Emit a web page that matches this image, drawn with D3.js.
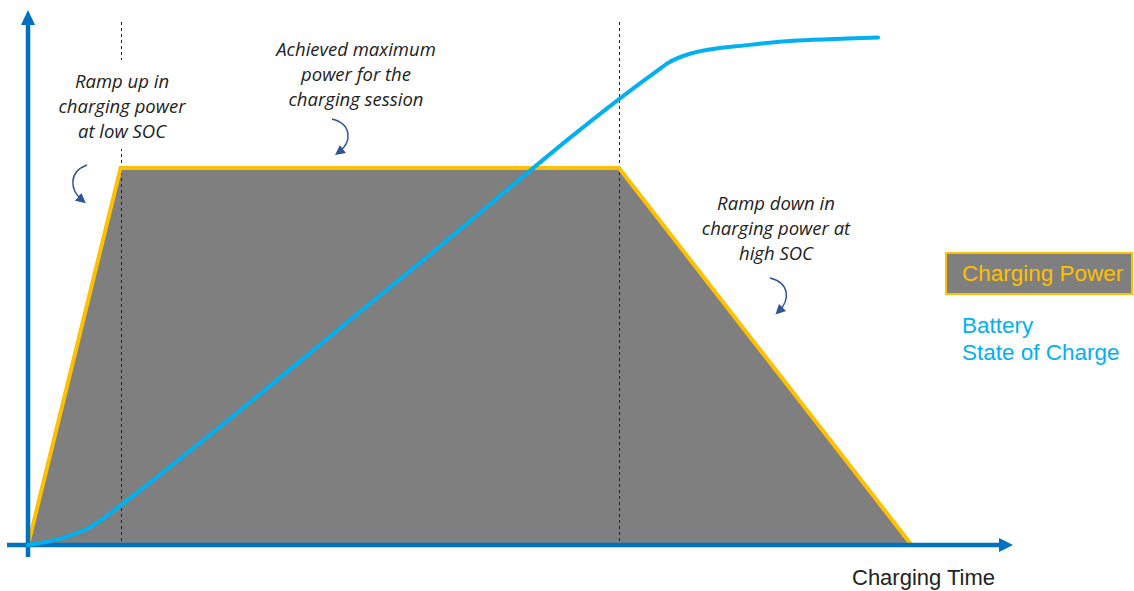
<!DOCTYPE html>
<html>
<head>
<meta charset="utf-8">
<script src="https://cdn.jsdelivr.net/npm/d3@7"></script>
<style>
  html, body { margin: 0; padding: 0; background: #fff; }
  #root { width: 1134px; height: 591px; }
</style>
</head>
<body>
<div id="root"></div>
<script>
'use strict';

// charging power profile (time, power in % of max)
var powerTime = [0, 9.4, 60, 89.7];
var powerValue = [0, 74.2, 74.2, 0];

// battery state of charge (time, %)
var socTime = [0, 3.2, 6.3, 8.8, 11.4, 37.8, 63.7, 65, 67.2, 73, 78.1, 83.2, 86.3];
var socValue = [0, 1.2, 3.5, 6.9, 10.8, 52.4, 93.1, 94.9, 96.7, 98.4, 99.3, 99.7, 99.9];

// phase boundaries (dashed lines)
var phaseTimes = [9.4, 60];

var notes = [
  ['Ramp up in', 'charging power', 'at low SOC'],
  ['Achieved maximum', 'power for the', 'charging session'],
  ['Ramp down in', 'charging power at', 'high SOC']
];
var legendLabels = ['Charging Power', 'Battery', 'State of Charge'];
var axisLabel = 'Charging Time';

var width = 1134;
var height = 591;

var orange = '#ffc000';
var gray = '#7f7f7f';
var socBlue = '#00b0f0';
var axisBlue = '#0070c0';
var arrowBlue = '#2f5597';

var xScale = d3.scaleLinear().domain([0, 100]).range([28, 1013]);
var yScale = d3.scaleLinear().domain([0, 100]).range([545, 37]);

var svg = d3.select('#root')
  .append('svg')
  .attr('width', width)
  .attr('height', height);

var power = powerTime.map((t, i) => ({ t: t, v: powerValue[i] }));
var soc = socTime.map((t, i) => ({ t: t, v: socValue[i] }));

// power area
svg.append('path')
  .datum(power)
  .attr('fill', gray)
  .attr('d', d3.area().x(d => xScale(d.t)).y0(yScale(0)).y1(d => yScale(d.v)));

// dashed phase lines
svg.selectAll('.phase')
  .data(phaseTimes)
  .enter()
  .append('line')
  .attr('x1', d => Math.round(xScale(d)) + 0.5)
  .attr('x2', d => Math.round(xScale(d)) + 0.5)
  .attr('y1', 22)
  .attr('y2', yScale(0))
  .attr('stroke', '#222')
  .attr('stroke-width', 1)
  .attr('stroke-dasharray', '3,3');

// power outline
svg.append('path')
  .datum(power)
  .attr('fill', 'none')
  .attr('stroke', orange)
  .attr('stroke-width', 4)
  .attr('stroke-linejoin', 'miter')
  .attr('d', d3.line().x(d => xScale(d.t)).y(d => yScale(d.v)));

// axes
var x0 = xScale.range()[0];
var y0 = yScale(0);
var axisG = svg.append('g');
axisG.append('line')
  .attr('x1', 7).attr('x2', xScale.range()[1] - 12)
  .attr('y1', y0).attr('y2', y0)
  .attr('stroke', axisBlue).attr('stroke-width', 4.5);
axisG.append('path')
  .attr('fill', axisBlue)
  .attr('d', `M${xScale.range()[1]},${y0} L${xScale.range()[1] - 14},${y0 - 7} L${xScale.range()[1] - 14},${y0 + 7}Z`);
axisG.append('line')
  .attr('x1', x0).attr('x2', x0)
  .attr('y1', 557).attr('y2', 22)
  .attr('stroke', axisBlue).attr('stroke-width', 4.5);
axisG.append('path')
  .attr('fill', axisBlue)
  .attr('d', `M${x0},10 L${x0 - 7},25 L${x0 + 7},25Z`);

// SOC curve
svg.append('path')
  .datum(soc)
  .attr('fill', 'none')
  .attr('stroke', socBlue)
  .attr('stroke-width', 4)
  .attr('stroke-linecap', 'round')
  .attr('d', d3.line().curve(d3.curveMonotoneX).x(d => xScale(d.t)).y(d => yScale(d.v)));

// annotations (first one sits on the dashed line, so it gets a white box)
var noteCx = [122, 356, 776];
var noteY = [88, 56, 210];
notes.forEach(function(lines, k) {
  var g = svg.append('g');
  var bg = g.append('rect').attr('fill', '#fff');
  g.selectAll('text')
    .data(lines)
    .enter()
    .append('text')
    .attr('x', noteCx[k])
    .attr('y', (d, i) => noteY[k] + i * 25)
    .attr('text-anchor', 'middle')
    .attr('font-family', '"Open Sans", sans-serif')
    .attr('font-style', 'italic')
    .attr('font-size', '18.5px')
    .attr('fill', '#222')
    .text(d => d);
  if (k === 0) {
    var bb = g.node().getBBox();
    bg.attr('x', bb.x - 4).attr('y', bb.y - 8)
      .attr('width', bb.width + 8).attr('height', bb.height + 14);
  } else {
    bg.remove();
  }
});

// curved pointer arrows
svg.append('defs').append('marker')
  .attr('id', 'head')
  .attr('viewBox', '0 0 10 10')
  .attr('refX', 5).attr('refY', 5)
  .attr('markerWidth', 10).attr('markerHeight', 10)
  .attr('markerUnits', 'userSpaceOnUse')
  .attr('orient', 'auto')
  .append('path')
  .attr('d', 'M0,0 L10,5 L0,10Z')
  .attr('fill', arrowBlue);

var arrows = [
  'M87,165 C68,172 70,190 82,200',
  'M332,119 C352,124 352,142 339,152',
  'M770,278 C790,283 790,300 779,311'
];
svg.selectAll('.arrow')
  .data(arrows)
  .enter()
  .append('path')
  .attr('d', d => d)
  .attr('fill', 'none')
  .attr('stroke', arrowBlue)
  .attr('stroke-width', 1.5)
  .attr('marker-end', 'url(#head)');

// legend
svg.append('rect')
  .attr('x', 946).attr('y', 253)
  .attr('width', 186).attr('height', 41)
  .attr('fill', gray)
  .attr('stroke', orange)
  .attr('stroke-width', 2);
svg.append('text')
  .attr('x', 962).attr('y', 281)
  .attr('font-family', 'Arial, "Liberation Sans", sans-serif')
  .attr('font-size', '22.5px')
  .attr('fill', orange)
  .text(legendLabels[0]);
svg.selectAll('.soclbl')
  .data(legendLabels.slice(1))
  .enter()
  .append('text')
  .attr('x', 962)
  .attr('y', (d, i) => 333 + i * 27)
  .attr('font-family', 'Arial, "Liberation Sans", sans-serif')
  .attr('font-size', '22.5px')
  .attr('fill', socBlue)
  .text(d => d);

svg.append('text')
  .attr('x', 852).attr('y', 585)
  .attr('font-family', 'Arial, "Liberation Sans", sans-serif')
  .attr('font-size', '22px')
  .attr('fill', '#222')
  .text(axisLabel);
</script>
</body>
</html>
